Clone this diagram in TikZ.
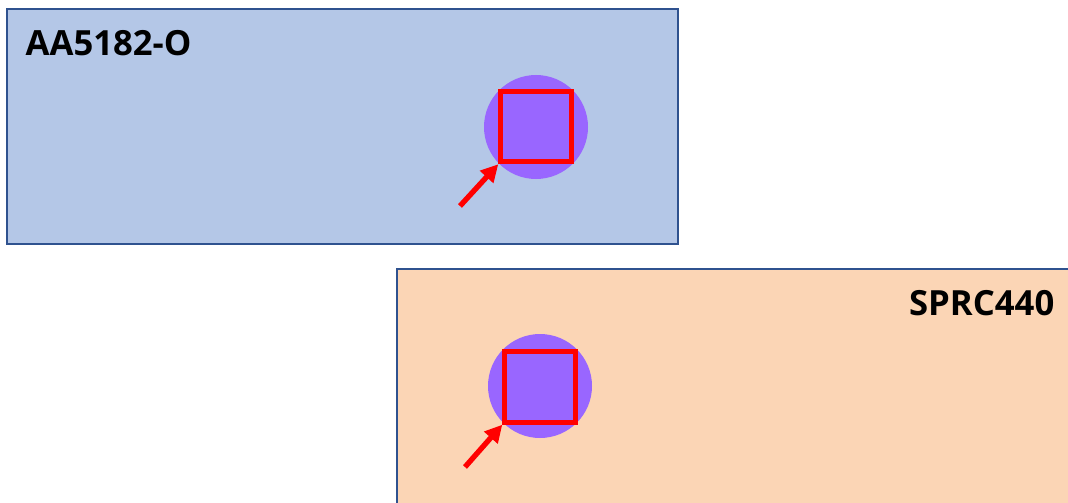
\documentclass[tikz,border=0pt]{standalone}
\usepackage{fontspec}
\setmainfont{Open Sans}
\usepackage{tikz}
\usetikzlibrary{arrows.meta}
\definecolor{platebluefill}{RGB}{180,199,231}
\definecolor{platepeach}{RGB}{251,213,181}
\definecolor{plateedge}{RGB}{47,82,143}
\definecolor{spotviolet}{RGB}{153,102,255}
\tikzset{
  plate/.style={draw=plateedge,line width=1.5pt},
  spot/.style={circle,fill=spotviolet,minimum size=78pt,inner sep=0pt},
  zone/.style={draw=red,line width=3.6pt,minimum size=53pt,inner sep=0pt},
  pointer/.style={-{Triangle[length=13pt,width=13pt]},red,line width=4pt},
  grade/.style={font=\bfseries\fontsize{26}{30}\selectfont}
}

\begin{document}
\begin{tikzpicture}[x=0.75pt,y=-0.75pt]
\useasboundingbox (0,0) rectangle (1068,503);
% upper sheet
\fill[platebluefill] (7,9) rectangle (678,244);
\draw[plate] (7,9) rectangle (678,244);
\node[grade,anchor=base west] (aaname) at (21,56) {AA5182-O};
\node[spot] (spotA) at (536,127) {};
\node[zone] (zoneA) at (536,126.5) {};
\coordinate (tailA) at (460,206);
\draw[pointer] (tailA) -- (zoneA.south west);
% lower sheet
\fill[platepeach] (397,269) rectangle (1080,515);
\draw[plate] (397,269) rectangle (1080,515);
\node[grade,anchor=base east] (sprcname) at (1059,315) {SPRC440};
\node[spot] (spotB) at (540,386) {};
\node[zone] (zoneB) at (540,387) {};
\coordinate (tailB) at (465,467);
\draw[pointer] (tailB) -- (zoneB.south west);
\end{tikzpicture}
\end{document}
